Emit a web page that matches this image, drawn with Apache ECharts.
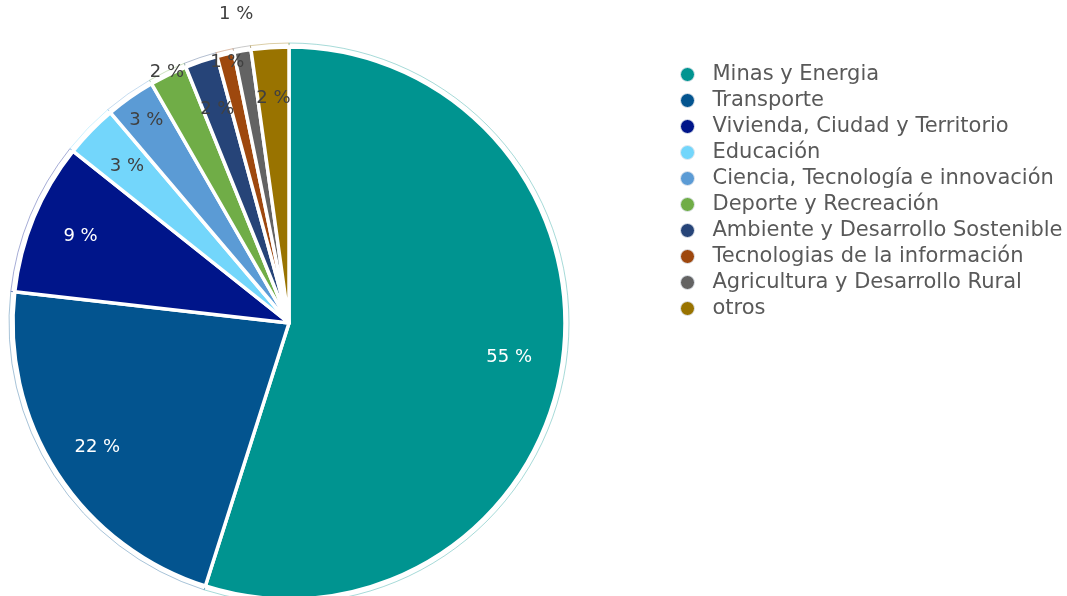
<!DOCTYPE html>
<html>
<head>
<meta charset="utf-8">
<script src="https://cdn.jsdelivr.net/npm/echarts@6/dist/echarts.min.js"></script>
<style>
  html, body { margin: 0; padding: 0; background: #ffffff; }
  #chart { width: 1067px; height: 596px; }
</style>
</head>
<body>
<div id="chart"></div>
<script>
// Investment share by sector (percent)
const sectors = [
  'Minas y Energia',
  'Transporte',
  'Vivienda, Ciudad y Territorio',
  'Educación',
  'Ciencia, Tecnología e innovación',
  'Deporte y Recreación',
  'Ambiente y Desarrollo Sostenible',
  'Tecnologias de la información',
  'Agricultura y Desarrollo Rural',
  'otros'
];
const shares = [54.9, 21.9, 8.9, 3.1, 2.9, 2.2, 1.9, 1.0, 1.0, 2.2];
const sliceColors = [
  '#009490', '#03548f', '#00158a', '#73d6fb', '#5b9bd5',
  '#70ad47', '#264478', '#9e480e', '#636363', '#997300'
];
const labelColors = [
  '#ffffff', '#ffffff', '#ffffff', '#404040', '#404040',
  '#404040', '#404040', '#404040', '#404040', '#404040'
];
// how far out each percentage label sits, as a fraction of the radius
const labelRadius = [0.79, 0.81, 0.80, 0.80, 0.88, 0.99, 0.80, 0.95, 1.11, 0.80];

const CX = 289, CY = 323, R = 276;
const FONT = '"DejaVu Sans", "Noto Sans", sans-serif';

const chart = echarts.init(document.getElementById('chart'), null, { renderer: 'canvas' });

const mainData = sectors.map((name, i) => ({
  name: name,
  value: shares[i],
  itemStyle: { color: sliceColors[i] },
  label: { color: labelColors[i] }
}));
const outlineData = sectors.map((name, i) => ({
  name: name,
  value: shares[i],
  itemStyle: { color: '#ffffff', borderColor: sliceColors[i] }
}));

chart.setOption({
  backgroundColor: '#ffffff',
  animation: false,
  legend: {
    orient: 'vertical',
    left: 675,
    top: 59,
    icon: 'circle',
    itemWidth: 40,
    itemHeight: 14,
    itemGap: 5,
    selectedMode: false,
    itemStyle: { borderColor: '#e3e8ef', borderWidth: 1 },
    textStyle: {
      fontFamily: FONT,
      fontSize: 21,
      color: '#595959'
    },
    data: sectors
  },
  series: [
    {
      type: 'pie',
      z: 3,
      center: [CX, CY],
      radius: [0, R],
      startAngle: 90,
      clockwise: true,
      itemStyle: { borderColor: '#ffffff', borderWidth: 3.5 },
      label: {
        show: true,
        position: 'inside',
        fontFamily: FONT,
        fontSize: 18,
        formatter: p => Math.round(p.percent) + ' %'
      },
      labelLine: { show: false },
      labelLayout: function (params) {
        const rect = params.labelRect;
        const lx = rect.x + rect.width / 2;
        const ly = rect.y + rect.height / 2;
        const k = 2 * labelRadius[params.dataIndex];
        return {
          x: CX + (lx - CX) * k,
          y: CY + (ly - CY) * k,
          align: 'center',
          verticalAlign: 'middle'
        };
      },
      data: mainData
    },
    {
      // faint outline ring around each slice
      type: 'pie',
      z: 1,
      center: [CX, CY],
      radius: [0, R + 4],
      startAngle: 90,
      clockwise: true,
      silent: true,
      label: { show: false },
      labelLine: { show: false },
      itemStyle: { borderWidth: 1, opacity: 0.35 },
      data: outlineData
    }
  ]
});
</script>
</body>
</html>
